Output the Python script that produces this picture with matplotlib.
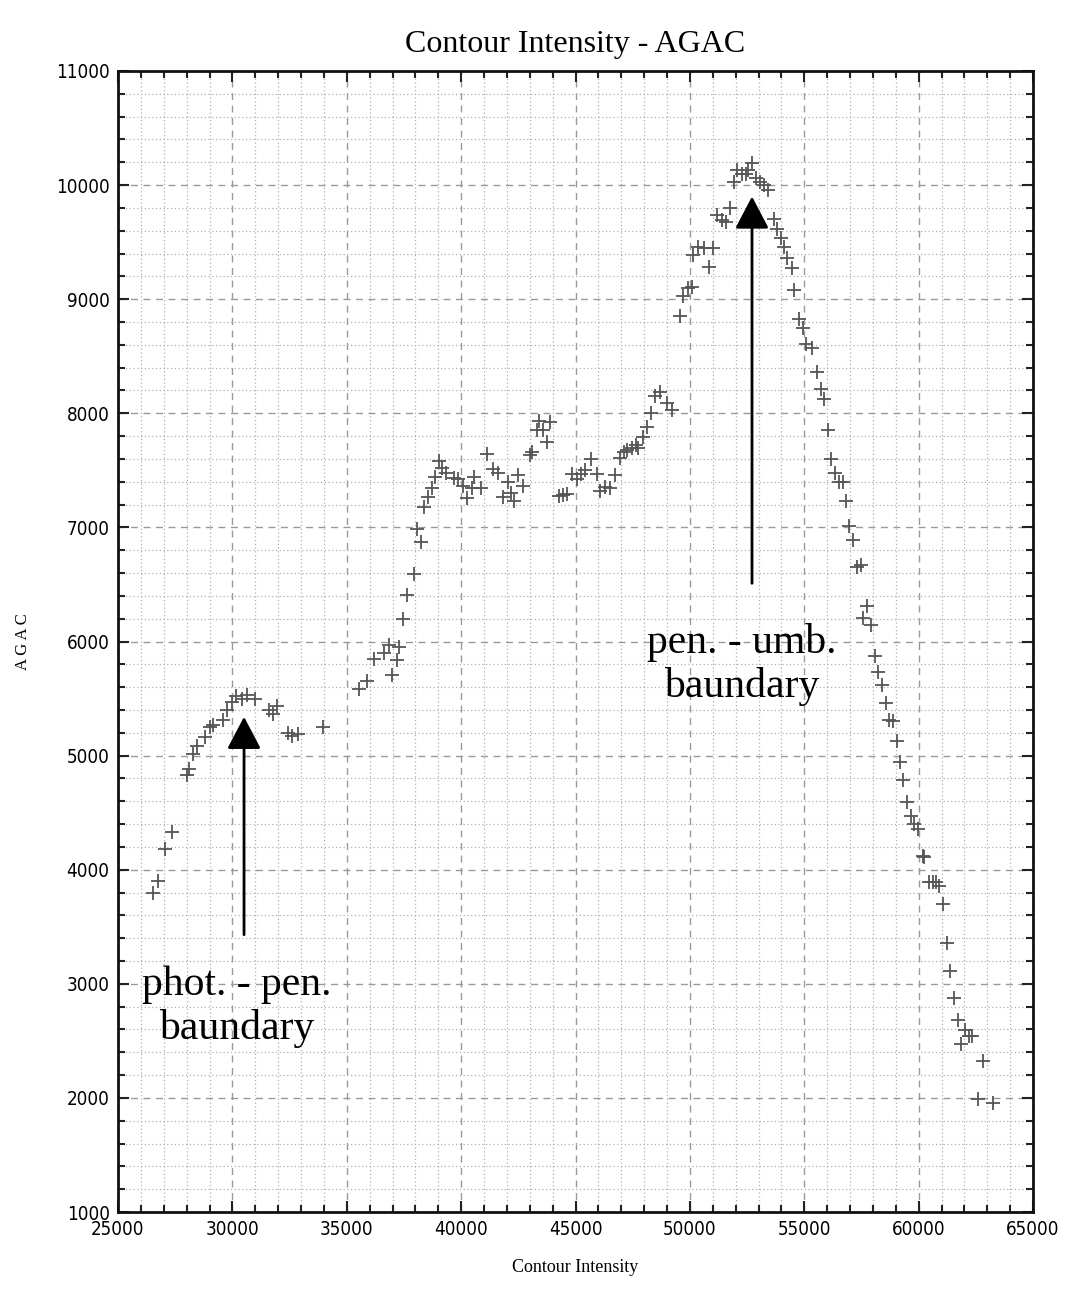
import matplotlib
matplotlib.use("Agg")
import matplotlib.pyplot as plt
from matplotlib.ticker import MultipleLocator

intensity = [26540, 26760, 27055, 27370, 28000, 28120, 28290, 28470, 28800, 29000,
             29170, 29570, 29775, 29970, 30160, 30400, 30625, 30990, 31615, 31790,
             31935, 32415, 32590, 32880, 33975, 35550, 35880, 36210, 36650, 36840,
             36960, 37180, 37295, 37440, 37615, 37940, 38080, 38230, 38390, 38560,
             38710, 38860, 39030, 39180, 39320, 39690, 39870, 40090, 40240, 40460,
             40570, 40850, 41140, 41400, 41620, 41810, 42030, 42160, 42310, 42500,
             42710, 43010, 43110, 43330, 43415, 43590, 43740, 43885, 44290, 44465,
             44640, 44860, 45080, 45225, 45420, 45680, 45925, 46070, 46290, 46510,
             46730, 46945, 47120, 47270, 47460, 47650, 47750, 47970, 48110, 48285,
             48470, 48690, 48980, 49200, 49570, 49710, 49930, 50075, 50150, 50365,
             50615, 50830, 50995, 51170, 51385, 51575, 51750, 51925, 52070, 52260,
             52450, 52550, 52695, 52890, 53065, 53240, 53425, 53680, 53790, 53965,
             54110, 54260, 54450, 54550, 54780, 54930, 55075, 55320, 55540, 55720,
             55860, 56055, 56150, 56345, 56530, 56675, 56830, 56970, 57120, 57300,
             57470, 57590, 57760, 57910, 58090, 58205, 58380, 58575, 58720, 58865,
             59040, 59190, 59330, 59480, 59655, 59810, 59990, 60175, 60230, 60465,
             60650, 60760, 60905, 61085, 61230, 61375, 61550, 61700, 61840, 62030,
             62215, 62320, 62605, 62800, 63260]
agac = [3800, 3905, 4180, 4333, 4830, 4880, 5015, 5080, 5160, 5250,
        5270, 5310, 5400, 5470, 5520, 5500, 5530, 5495, 5400, 5365,
        5435, 5195, 5170, 5185, 5250, 5585, 5650, 5850, 5895, 5970,
        5705, 5840, 5955, 6200, 6410, 6590, 6990, 6875, 7175, 7265,
        7345, 7445, 7585, 7520, 7475, 7430, 7420, 7365, 7255, 7345,
        7445, 7345, 7645, 7510, 7480, 7265, 7395, 7300, 7230, 7460,
        7365, 7635, 7665, 7855, 7930, 7855, 7750, 7920, 7275, 7285,
        7295, 7470, 7425, 7470, 7500, 7600, 7470, 7315, 7350, 7345,
        7460, 7605, 7665, 7680, 7695, 7720, 7695, 7790, 7880, 8000,
        8150, 8190, 8090, 8030, 8850, 9025, 9095, 9110, 9390, 9460,
        9445, 9285, 9445, 9740, 9695, 9680, 9800, 10030, 10135, 10100,
        10100, 10135, 10195, 10060, 10030, 10000, 9955, 9700, 9615, 9535,
        9460, 9360, 9270, 9080, 8830, 8745, 8610, 8570, 8360, 8210,
        8125, 7855, 7600, 7480, 7400, 7395, 7230, 7010, 6890, 6655,
        6670, 6210, 6310, 6145, 5875, 5735, 5620, 5460, 5310, 5300,
        5130, 4940, 4785, 4595, 4470, 4400, 4355, 4120, 4110, 3890,
        3895, 3890, 3860, 3700, 3360, 3115, 2875, 2680, 2470, 2595,
        2545, 2545, 1990, 2325, 1955]

arrow_x = [30510, 52716]
arrow_tail_y = [3430, 6510]
arrow_tip_y = [5340, 9900]
note_text = ["phot. - pen.\nbaundary", "pen. - umb.\nbaundary"]
note_x = [30180, 52250]
note_y = [2800, 5800]

fig = plt.figure(figsize=(10.65, 12.93), dpi=100)
ax = fig.add_axes([118 / 1065, 1 - 1212 / 1293, 915 / 1065, 1141 / 1293])

ax.set_xlim(25000, 65000)
ax.set_ylim(1000, 11000)
ax.xaxis.set_major_locator(MultipleLocator(5000))
ax.xaxis.set_minor_locator(MultipleLocator(1000))
ax.yaxis.set_major_locator(MultipleLocator(1000))
ax.yaxis.set_minor_locator(MultipleLocator(200))

ax.grid(which="major", color="#999999", linestyle=(0, (5, 4)), linewidth=1.0)
ax.grid(which="minor", color="#b0b0b0", linestyle=(0, (1, 2)), linewidth=0.9)
ax.set_axisbelow(True)

for s in ax.spines.values():
    s.set_linewidth(2.0)
    s.set_color("#111111")

ax.tick_params(which="both", direction="in", top=True, right=True, width=1.5, color="#222222")
ax.tick_params(which="major", length=8)
ax.tick_params(which="minor", length=5)
ax.tick_params(axis="both", which="major", labelsize=13.5, pad=6)
for lab in ax.get_xticklabels() + ax.get_yticklabels():
    lab.set_fontfamily("DejaVu Sans")
    lab.set_fontstretch("condensed")

ax.plot(intensity, agac, linestyle="none", marker="+", markersize=10,
        markeredgewidth=1.3, color="#555555")

for x, yt, yh in zip(arrow_x, arrow_tail_y, arrow_tip_y):
    ax.annotate("", xy=(x, yh), xytext=(x, yt),
                arrowprops=dict(arrowstyle="-|>,head_length=2.0,head_width=1.05",
                                color="black", lw=2.0, shrinkA=0, shrinkB=0))

for t, x, y in zip(note_text, note_x, note_y):
    ax.text(x, y, t, ha="center", va="center", fontsize=30,
            family="Liberation Serif", linespacing=1.15)

ax.set_title("Contour Intensity - AGAC", fontsize=23, family="Liberation Serif", pad=14)
ax.set_xlabel("Contour Intensity", fontsize=13, family="Liberation Serif", labelpad=14)
ax.set_ylabel("A G A C", fontsize=12, family="Liberation Serif", labelpad=18)

fig.savefig("out.png", dpi=100, facecolor="white")
